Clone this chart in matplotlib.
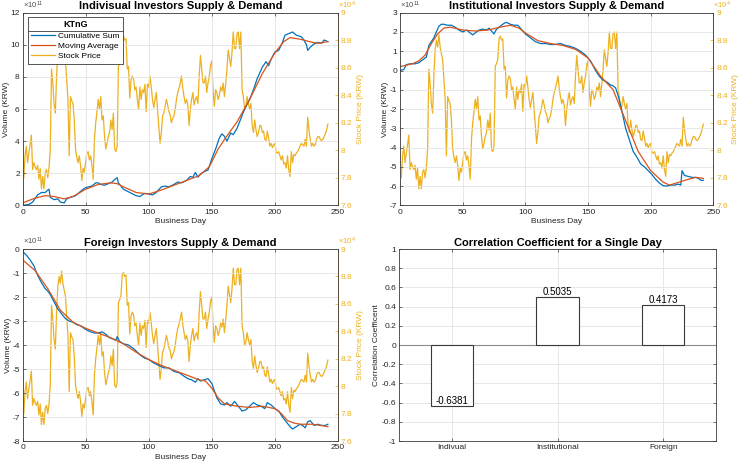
import matplotlib
matplotlib.use("Agg")
import matplotlib.pyplot as plt
from matplotlib.lines import Line2D
from matplotlib.transforms import IdentityTransform

plt.rcParams.update({
    "font.family": "Liberation Sans",
    "font.size": 6,
    "mathtext.default": "regular",
    "axes.linewidth": 0.6,
    "axes.edgecolor": "#3a3a3a",
    "xtick.color": "#3a3a3a",
    "ytick.color": "#3a3a3a",
    "xtick.labelcolor": "#262626",
    "ytick.labelcolor": "#262626",
    "xtick.direction": "in",
    "ytick.direction": "in",
    "xtick.major.size": 2.5,
    "ytick.major.size": 2.5,
    "xtick.major.width": 0.5,
    "ytick.major.width": 0.5,
    "xtick.major.pad": 2.5,
    "ytick.major.pad": 2,
})

BLUE = "#0072BD"
ORANGE = "#D95319"
YELLOW = "#EDB120"
GRID = "#e3e3e3"
TXT = "#262626"

# stock price, units of 10^4 KRW, business days 1..242
PRICE = [
    7.80, 7.96, 8.03, 7.91, 7.98, 8.04, 8.11, 7.86, 7.91, 7.88,
    7.86, 7.89, 7.79, 7.87, 7.72, 7.81, 7.72, 7.84, 7.86, 7.80,
    7.87, 8.01, 8.59, 8.49, 8.34, 8.27, 8.54, 8.73, 8.80, 8.75,
    8.84, 8.75, 8.70, 8.66, 8.51, 8.37, 7.96, 8.39, 8.36, 8.34,
    8.22, 8.01, 7.95, 7.91, 7.96, 7.89, 7.78, 7.87, 7.84, 7.91,
    7.98, 7.99, 7.93, 7.96, 7.89, 7.79, 8.08, 8.20, 8.28, 8.37,
    8.30, 8.39, 8.22, 8.25, 8.10, 8.01, 8.05, 8.10, 8.13, 8.22,
    8.15, 8.27, 8.01, 7.99, 8.03, 8.61, 8.63, 8.66, 8.81, 8.83,
    8.80, 8.81, 8.59, 8.61, 8.38, 8.51, 8.54, 8.52, 8.44, 8.46,
    8.37, 8.30, 8.46, 8.37, 8.44, 8.42, 8.48, 8.28, 8.48, 8.46,
    8.54, 8.46, 8.37, 8.31, 8.37, 8.42, 8.30, 8.18, 8.05, 8.13,
    8.25, 8.27, 8.32, 8.37, 8.33, 8.28, 8.26, 8.20, 8.23, 8.25,
    8.30, 8.37, 8.42, 8.45, 8.49, 8.54, 8.45, 8.39, 8.34, 8.37,
    8.33, 8.18, 8.30, 8.37, 8.42, 8.33, 8.37, 8.39, 8.34, 8.54,
    8.69, 8.59, 8.49, 8.49, 8.54, 8.42, 8.49, 8.54, 8.62, 8.65,
    8.44, 8.32, 8.44, 8.42, 8.37, 8.40, 8.46, 8.43, 8.49, 8.39,
    8.48, 8.59, 8.73, 8.67, 8.61, 8.71, 8.86, 8.74, 8.74, 8.85,
    8.86, 8.74, 8.86, 8.44, 8.39, 8.30, 8.32, 8.39, 8.34, 8.30,
    8.34, 8.18, 8.13, 8.22, 8.15, 8.10, 8.13, 8.18, 8.18, 8.13,
    8.14, 8.08, 8.07, 8.14, 8.09, 8.03, 8.05, 8.02, 8.04, 8.05,
    7.98, 7.98, 7.99, 7.96, 7.93, 7.96, 7.90, 7.91, 7.87, 7.96,
    7.86, 7.81, 7.99, 7.91, 7.97, 7.96, 7.98, 7.99, 8.01, 8.03,
    8.05, 8.04, 8.03, 8.08, 8.03, 8.24, 8.15, 8.08, 8.03, 8.05,
    8.03, 8.04, 8.08, 8.10, 8.10, 8.08, 8.07, 8.08, 8.10, 8.12,
    8.15, 8.19,
]
PRICE_DAYS = list(range(1, len(PRICE) + 1))
PRICE_TICKS = [7.6, 7.8, 8.0, 8.2, 8.4, 8.6, 8.8, 9.0]

# individual investors, units of 10^11 KRW
IND_CUM_DAYS = [0, 5, 8, 12, 15, 18, 20, 21, 22, 25, 28, 30, 33, 35, 38, 42, 45, 48, 50,
                55, 58, 60, 62, 65, 68, 71, 73, 75, 76, 78, 80, 85, 90, 93, 95, 97, 100,
                103, 106, 110, 113, 116, 120, 123, 126, 130, 133, 135, 137, 139, 141, 144,
                147, 150, 153, 156, 158, 160, 162, 165, 167, 170, 172, 175, 178, 180, 183,
                186, 190, 193, 195, 197, 200, 203, 206, 208, 211, 214, 217, 221, 223, 225,
                226, 228, 231, 234, 237, 239, 242]
IND_CUM = [0.0, 0.05, 0.2, 0.65, 0.8, 0.8, 0.95, 1.0, 0.5, 0.35, 0.4, 0.2, 0.15, 0.4, 0.5,
           0.6, 0.8, 1.0, 1.1, 1.2, 1.4, 1.4, 1.3, 1.25, 1.35, 1.45, 1.6, 1.72, 1.4, 1.2,
           1.0, 0.8, 0.6, 0.55, 0.65, 0.75, 0.7, 0.65, 0.8, 1.15, 1.2, 1.15, 1.3, 1.45, 1.4,
           1.55, 1.8, 1.75, 2.05, 1.75, 1.95, 2.1, 2.2, 2.9, 3.5, 4.2, 4.45, 4.3, 4.0, 4.5,
           4.4, 4.8, 5.2, 5.8, 6.3, 6.6, 7.2, 7.9, 8.6, 8.95, 8.7, 9.1, 9.55, 9.65, 10.15,
           10.6, 10.7, 10.8, 10.6, 10.5, 10.3, 10.0, 9.65, 9.85, 10.05, 10.15, 10.1, 10.3,
           10.2]
IND_MA_DAYS = [0, 10, 18, 25, 33, 40, 50, 60, 70, 75, 80, 90, 100, 110, 120, 130, 140, 148,
               155, 160, 170, 180, 190, 200, 207, 212, 220, 230, 235, 242]
IND_MA = [0.15, 0.45, 0.6, 0.55, 0.4, 0.55, 1.0, 1.3, 1.4, 1.35, 1.15, 0.8, 0.7, 0.95, 1.25,
          1.55, 1.85, 2.4, 3.5, 4.1, 5.2, 6.6, 8.2, 9.5, 10.2, 10.45, 10.35, 10.15, 10.1,
          10.2]

# institutional investors
INS_CUM_DAYS = [0, 3, 5, 8, 12, 15, 17, 19, 21, 23, 25, 27, 29, 31, 33, 35, 38, 41, 44, 47,
                50, 53, 56, 58, 61, 63, 66, 69, 71, 73, 75, 77, 80, 83, 85, 88, 91, 94, 96,
                100, 104, 108, 112, 116, 120, 124, 128, 132, 136, 140, 144, 148, 152, 156,
                159, 162, 165, 168, 170, 172, 174, 176, 178, 180, 183, 186, 189, 192, 195,
                198, 201, 204, 207, 210, 213, 216, 219, 222, 224, 225, 227, 230, 233, 236,
                238, 240, 242]
INS_CUM = [0.0, 0.05, 0.3, 0.35, 0.35, 0.4, 0.5, 0.6, 0.7, 1.3, 1.5, 1.7, 2.0, 2.3, 2.4,
           2.4, 2.35, 2.35, 2.25, 2.1, 2.0, 2.1, 1.95, 1.85, 2.0, 2.1, 2.15, 2.1, 2.2, 2.05,
           1.9, 2.15, 2.3, 2.45, 2.5, 2.4, 2.35, 2.35, 2.2, 1.9, 1.7, 1.5, 1.4, 1.4, 1.35,
           1.35, 1.4, 1.3, 1.25, 1.15, 1.0, 0.8, 0.5, 0.0, -0.3, -0.5, -0.6, -0.75, -0.8,
           -0.9, -1.3, -1.8, -2.4, -3.0, -3.6, -4.2, -4.5, -4.85, -5.0, -5.2, -5.4, -5.65,
           -5.85, -5.98, -6.0, -5.95, -5.95, -5.9, -5.95, -5.2, -5.45, -5.5, -5.55, -5.55,
           -5.6, -5.7, -5.7]
INS_MA_DAYS = [0, 10, 15, 20, 25, 30, 35, 40, 50, 60, 70, 80, 88, 95, 100, 110, 120, 130,
               140, 150, 160, 170, 180, 190, 200, 210, 215, 220, 230, 236, 242]
INS_MA = [0.2, 0.35, 0.5, 0.8, 1.4, 1.9, 2.2, 2.25, 2.1, 2.05, 2.1, 2.25, 2.35, 2.2, 1.95,
          1.55, 1.4, 1.3, 1.1, 0.65, -0.3, -1.0, -2.6, -4.2, -5.2, -5.8, -5.95, -5.85,
          -5.65, -5.55, -5.6]

# foreign investors
FOR_CUM_DAYS = [0, 3, 6, 9, 12, 15, 18, 20, 22, 25, 28, 31, 34, 37, 40, 43, 46, 50, 54, 57,
                60, 63, 66, 69, 72, 74, 75, 77, 80, 84, 88, 91, 94, 97, 100, 104, 108, 112,
                116, 120, 124, 128, 131, 134, 137, 139, 141, 144, 147, 150, 152, 154, 157,
                160, 162, 165, 168, 171, 174, 177, 180, 183, 186, 189, 192, 194, 197, 200,
                203, 206, 209, 212, 214, 217, 220, 222, 224, 226, 228, 231, 234, 237, 240,
                242]
FOR_CUM = [-0.1, -0.25, -0.45, -0.7, -1.1, -1.4, -1.65, -1.75, -1.9, -2.2, -2.5, -2.7,
           -2.9, -3.0, -3.05, -3.15, -3.2, -3.35, -3.45, -3.5, -3.5, -3.45, -3.55, -3.7,
           -3.75, -3.8, -3.65, -3.85, -3.95, -4.0, -4.15, -4.3, -4.45, -4.55, -4.6, -4.75,
           -4.85, -4.95, -4.95, -5.1, -5.15, -5.3, -5.4, -5.45, -5.55, -5.4, -5.5, -5.45,
           -5.4, -5.6, -5.9, -6.2, -6.45, -6.5, -6.4, -6.55, -6.35, -6.55, -6.75, -6.7,
           -6.55, -6.4, -6.5, -6.55, -6.65, -6.4, -6.5, -6.65, -6.75, -7.0, -7.2, -7.4,
           -7.5, -7.4, -7.3, -7.35, -7.45, -7.2, -7.15, -7.35, -7.3, -7.35, -7.35, -7.3]
FOR_MA_DAYS = [0, 10, 20, 30, 40, 50, 60, 70, 80, 90, 100, 110, 120, 130, 140, 145, 150,
               155, 160, 170, 180, 190, 200, 205, 210, 215, 220, 230, 242]
FOR_MA = [-0.45, -0.9, -1.65, -2.55, -3.05, -3.3, -3.5, -3.7, -3.95, -4.3, -4.6, -4.85,
          -5.05, -5.25, -5.45, -5.5, -5.8, -6.2, -6.45, -6.55, -6.6, -6.55, -6.65, -6.85,
          -7.15, -7.25, -7.3, -7.3, -7.4]

CORR_LABELS = ["Indivual", "Institutional", "Foreign"]
CORR = [-0.6381, 0.5035, 0.4173]

X_TICKS = [0, 50, 100, 150, 200, 250]


def fmt(v):
    return f"{v:g}"


def flow_panel(fig, rect, title, cum_days, cum, ma_days, ma, yticks):
    ax = fig.add_axes(rect)
    ax2 = ax.twinx()
    ax2.plot(PRICE_DAYS, PRICE, color=YELLOW, lw=0.9, label="Stock Price")
    ax.plot(cum_days, cum, color=BLUE, lw=0.9, label="Cumulative Sum")
    ax.plot(ma_days, ma, color=ORANGE, lw=0.9, label="Moving Average")
    ax.set_zorder(ax2.get_zorder() + 1)
    ax.patch.set_visible(False)

    ax.set_xlim(0, 250)
    ax.set_xticks(X_TICKS)
    ax.set_ylim(yticks[0], yticks[-1])
    ax.set_yticks(yticks)
    ax.set_yticklabels([fmt(t) for t in yticks])
    ax.grid(True, color=GRID, lw=0.6)
    ax.set_axisbelow(True)
    ax.tick_params(top=True)
    ax.set_xlabel("Business Day", color=TXT, labelpad=1.5)
    ax.set_ylabel("Volume (KRW)", color=TXT, labelpad=0.5)
    ax.set_title(title, fontsize=8, fontweight="bold", pad=2.5)
    ax.text(0, 1.008, r"$\times10^{11}$", transform=ax.transAxes, ha="left",
            va="bottom", fontsize=5.5, color="#4d4d4d")

    ax2.set_ylim(PRICE_TICKS[0], PRICE_TICKS[-1])
    ax2.set_yticks(PRICE_TICKS)
    ax2.set_yticklabels([fmt(t) for t in PRICE_TICKS])
    ax2.tick_params(axis="y", colors=YELLOW, labelcolor=YELLOW)
    ax2.spines["right"].set_color(YELLOW)
    ax2.set_ylabel("Stock Price (KRW)", color=YELLOW, labelpad=3)
    ax2.text(1.0, 1.008, r"$\times10^{4}$", transform=ax2.transAxes, ha="left",
             va="bottom", fontsize=5.5, color=YELLOW)
    for s in ("left", "top", "bottom"):
        ax2.spines[s].set_visible(False)
    return ax, ax2


fig = plt.figure(figsize=(7.43, 4.66), dpi=100)

ax_ind, ax_ind2 = flow_panel(fig, [0.0303, 0.5594, 0.4246, 0.4133],
                             "Indivisual Investors Supply & Demand",
                             IND_CUM_DAYS, IND_CUM, IND_MA_DAYS, IND_MA,
                             [0, 2, 4, 6, 8, 10, 12])
flow_panel(fig, [0.5384, 0.5594, 0.4217, 0.4133],
           "Institutional Investors Supply & Demand",
           INS_CUM_DAYS, INS_CUM, INS_MA_DAYS, INS_MA,
           [-7, -6, -5, -4, -3, -2, -1, 0, 1, 2, 3])
flow_panel(fig, [0.0303, 0.0536, 0.4246, 0.4120],
           "Foreign Investors Supply & Demand",
           FOR_CUM_DAYS, FOR_CUM, FOR_MA_DAYS, FOR_MA,
           [-8, -7, -6, -5, -4, -3, -2, -1, 0])

# legend (individual panel only)
handles = ax_ind.get_lines()[:2] + ax_ind2.get_lines()[:1]
leg = ax_ind.legend(handles=handles, labels=[h.get_label() for h in handles],
                    title="KTnG", loc="upper left", bbox_to_anchor=(0.017, 0.978),
                    borderaxespad=0, fontsize=6, title_fontproperties={"weight": "bold", "size": 6.5},
                    fancybox=False, framealpha=1, edgecolor="#3a3a3a",
                    handlelength=2.9, handletextpad=0.3, labelspacing=0.3,
                    borderpad=0.4)
leg.get_frame().set_linewidth(0.6)

# correlation bars
axb = fig.add_axes([0.537, 0.0536, 0.4267, 0.4120])
pos = list(range(1, len(CORR) + 1))
axb.bar(pos, CORR, width=0.4, color="white", edgecolor="#3a3a3a", lw=0.8, zorder=3)
axb.axhline(0, color="#8c8c8c", lw=0.8, zorder=2)
for p, v in zip(pos, CORR):
    axb.text(p, v, f"{v:.4f}", ha="center", va="bottom", fontsize=7, color="black", zorder=4)
axb.set_xlim(0.5, 3.5)
axb.set_xticks(pos)
axb.set_xticklabels(CORR_LABELS)
yt = [-1, -0.8, -0.6, -0.4, -0.2, 0, 0.2, 0.4, 0.6, 0.8, 1]
axb.set_ylim(-1, 1)
axb.set_yticks(yt)
axb.set_yticklabels([fmt(t) for t in yt])
axb.grid(True, color=GRID, lw=0.6)
axb.set_axisbelow(True)
axb.tick_params(top=True, right=True)
axb.set_ylabel("Correlation Coefficent", color=TXT, labelpad=1)
axb.set_title("Correlation Coefficient for a Single Day", fontsize=8, fontweight="bold", pad=2.5)

# separator line under the legend title
fig.canvas.draw()
fb = leg.get_frame().get_window_extent()
tb = leg.get_title().get_window_extent()
ysep = tb.y0 - 1.5
fig.add_artist(Line2D([fb.x0, fb.x1], [ysep, ysep], transform=IdentityTransform(),
                      color="#3a3a3a", lw=0.6, zorder=10))

fig.savefig("out.png", dpi=100)
